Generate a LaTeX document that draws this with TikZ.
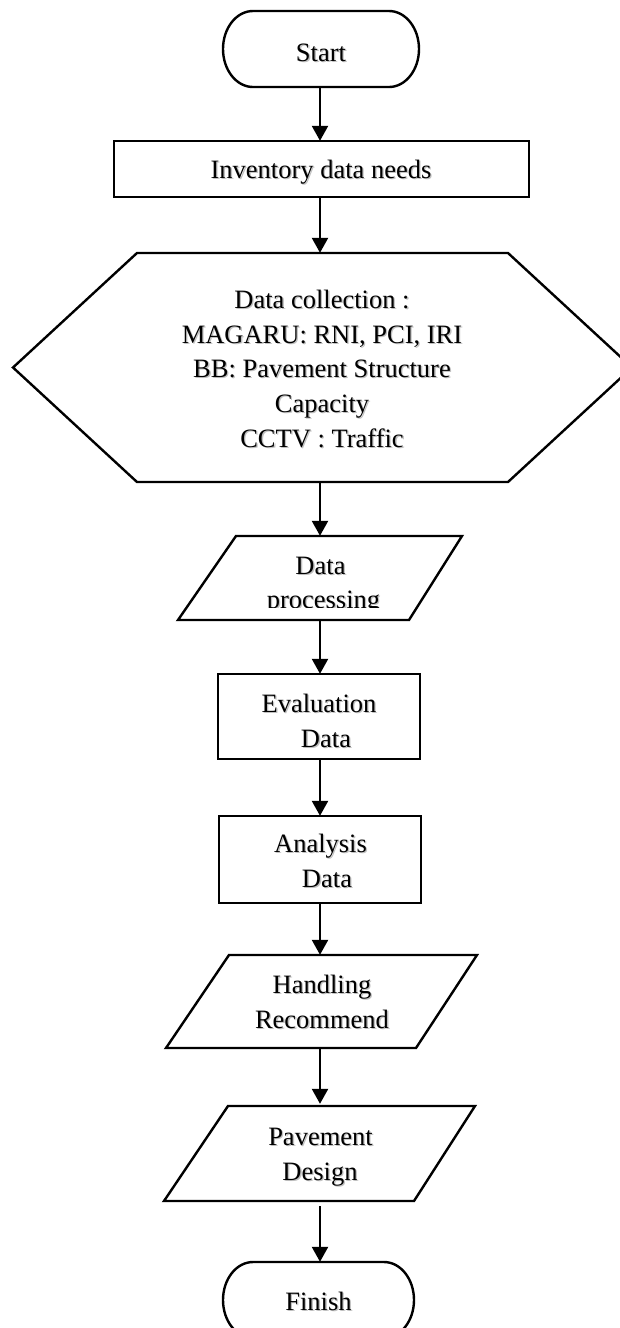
\documentclass[tikz,border=0pt]{standalone}
\usepackage{fontspec}
\setmainfont{Liberation Serif}
\usetikzlibrary{arrows.meta}

% a label line with its soft drop shadow
\newcommand{\flowtext}[3]{%
  \node[lbl, text=black!55, opacity=0.45, xshift=1.3pt, yshift=-1.3pt] (#1-sh) at (#2) {#3};
  \node[lbl] (#1) at (#2) {#3};}

\begin{document}
\begin{tikzpicture}[x=1pt,y=-1pt,
  outline/.style={draw=black, line width=2.4pt, fill=white, line join=miter},
  frame/.style={draw=none, inner sep=0pt, minimum width=10pt},
  lbl/.style={font=\fontsize{26.5pt}{34.5pt}\selectfont, inner sep=0pt, anchor=base},
  arr/.style={draw=black, line width=2.4pt, -{Triangle[length=15pt,width=16pt]}}
]
\useasboundingbox (0,0) rectangle (620,1328);

% ---- outlines of the flow steps ----
% Start terminator
\draw[outline] (253,11) -- (389,11)
  arc[start angle=-90, end angle=90, x radius=30, y radius=38]
  -- (253,87)
  arc[start angle=90, end angle=270, x radius=30, y radius=38] -- cycle;
% Inventory box
\draw[outline] (114,141) rectangle (529,197);
% Data collection hexagon
\draw[outline] (137,253) -- (508,253) -- (632,367.5) -- (508,482)
  -- (137,482) -- (13,367.5) -- cycle;
% Data processing parallelogram
\draw[outline] (236,536) -- (462,536) -- (409,620) -- (178,620) -- cycle;
% Evaluation and analysis boxes
\draw[outline] (218,674) rectangle (420,759);
\draw[outline] (219,816) rectangle (421,903);
% Handling and design parallelograms
\draw[outline] (229,955) -- (477,955) -- (416,1048) -- (166,1048) -- cycle;
\draw[outline] (228,1106) -- (475,1106) -- (414,1201) -- (164,1201) -- cycle;
% Finish terminator
\draw[outline] (253,1262) -- (384,1262)
  arc[start angle=-90, end angle=90, x radius=30, y radius=38]
  -- (253,1338)
  arc[start angle=90, end angle=270, x radius=30, y radius=38] -- cycle;

% ---- frames used as connector ends ----
\node[frame, minimum height=76pt]  (start)   at (320,49)     {};
\node[frame, minimum height=56pt]  (inv)     at (320,169)    {};
\node[frame, minimum height=229pt] (collect) at (320,367.5)  {};
\node[frame, minimum height=84pt]  (proc)    at (320,578)    {};
\node[frame, minimum height=85pt]  (eval)    at (320,716.5)  {};
\node[frame, minimum height=87pt]  (anal)    at (320,859.5)  {};
\node[frame, minimum height=93pt]  (hand)    at (320,1001.5) {};
\node[frame, minimum height=102pt] (design)  at (320,1155)   {};
\node[frame, minimum height=76pt]  (finish)  at (320,1300)   {};

% ---- labels ----
\flowtext{tStart}{321,61}{Start}
\flowtext{tInv}{321,178}{Inventory data needs}
\flowtext{tCol1}{322,308}{Data collection :}
\flowtext{tCol2}{322,343}{MAGARU: RNI, PCI, IRI}
\flowtext{tCol3}{322,377.5}{BB: Pavement Structure}
\flowtext{tCol4}{322,412}{Capacity}
\flowtext{tCol5}{322,447}{CCTV : Traffic}
\flowtext{tProc1}{320.5,574}{Data}
\begin{scope}
  \clip (150,520) rectangle (500,607.5);
  \flowtext{tProc2}{323.5,608.5}{processing}
\end{scope}
\flowtext{tEval1}{319,712}{Evaluation}
\flowtext{tEval2}{326,747}{Data}
\flowtext{tAnal1}{320.5,852}{Analysis}
\flowtext{tAnal2}{327,887}{Data}
\flowtext{tHand1}{322,993}{Handling}
\flowtext{tHand2}{322,1028}{Recommend}
\flowtext{tDes1}{320.5,1145}{Pavement}
\flowtext{tDes2}{320,1180}{Design}
\flowtext{tFin}{318.5,1310}{Finish}

% ---- connectors ----
\draw[arr] (start) -- (inv);
\draw[arr] (inv) -- (collect);
\draw[arr] (collect) -- (proc);
\draw[arr] (proc) -- (eval);
\draw[arr] (eval) -- (anal);
\draw[arr] (anal) -- (hand);
\draw[arr] (hand) -- (design);
\draw[arr] (design) -- (finish);
\end{tikzpicture}
\end{document}
